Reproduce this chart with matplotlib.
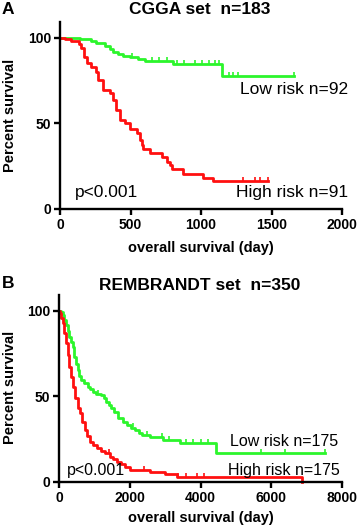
import numpy as np
import matplotlib
matplotlib.use("Agg")
from matplotlib import pyplot as plt

plt.rcParams['font.family'] = ['Liberation Sans', 'DejaVu Sans']

# panel A: CGGA (time in days, percent survival)
cgga_low_t = [0, 140, 222, 258, 317, 352, 376, 411, 447, 494, 553, 600, 801, 1151, 1660]
cgga_low_s = [100, 99.2, 98, 96.7, 95.3, 93.4, 91.8, 90.5, 89.3, 88.5, 87.6, 86.4, 84.6, 77.6, 77.6]
cgga_low_cens = [509, 650, 700, 760, 830, 880, 960, 1010, 1060, 1100, 1130, 1200, 1230, 1260, 1660]

cgga_high_t = [0, 33, 80, 132, 151, 170, 194, 222, 258, 270, 305, 352, 376, 399, 423, 461, 497,
               546, 567, 579, 591, 638, 721, 757, 780, 792, 874, 1016, 1087, 1475]
cgga_high_s = [100, 99, 98, 96.3, 93.8, 88.9, 85, 83, 80, 75.3, 69.5, 67.5, 63.6, 57.8, 52, 50, 46.5,
               44.2, 40.3, 37.4, 34.8, 32.9, 30.5, 27.6, 25.7, 23.2, 20.4, 17.9, 16.2, 16.2]
cgga_high_cens = [1300, 1380, 1420, 1475]

# panel B: REMBRANDT
remb_low_t = [0, 60, 104, 150, 198, 250, 292, 340, 387, 434, 480, 528, 575, 622, 700, 811, 880, 952,
              1050, 1187, 1260, 1329, 1400, 1470, 1550, 1677, 1800, 1913, 2030, 2149, 2250, 2337,
              2573, 2949, 3421, 4438, 7520]
remb_low_s = [100, 99, 97.5, 94.5, 91.6, 88, 84.8, 82, 79, 73, 69, 65.3, 62, 59.5, 57.5, 55.6, 54, 52.6,
              51.5, 50.7, 49, 46.8, 44.8, 42.9, 40.5, 37.1, 35, 33.2, 31.7, 30.2, 28.7, 27.3,
              26, 24.4, 22.8, 17, 17]
remb_low_cens = [1100, 2100, 2500, 2900, 3100, 3600, 3800, 4000, 4200, 5700, 6400, 7520]

remb_high_t = [0, 20, 50, 104, 150, 198, 250, 292, 340, 387, 450, 528, 594, 660, 735, 800, 876, 960,
               1066, 1180, 1300, 1442, 1540, 1631, 1750, 1866, 2007, 2573, 3000, 3327, 6861, 6861]
remb_high_s = [100, 98.5, 96, 92.6, 87, 81, 74, 67.3, 61.5, 55.6, 49, 42.9, 40, 35, 30.2, 26.5, 23.4, 21.5,
               19.5, 18, 16.6, 14.6, 13, 11.7, 10.2, 8.8, 6.8, 5.8, 4.7, 2.9, 2.9, 0]
remb_high_cens = [1400, 2400, 3350, 3600, 3900, 4100]

green = '#2cf52c'
red = '#ff1010'

W, H = 358, 531
fig = plt.figure(figsize=(W / 100, H / 100), dpi=100)


def surv_at(t, s, x):
    i = np.searchsorted(t, x, side='right') - 1
    return np.array(s)[i]


def km_panel(rect, xmax, xticks, curves):
    ax = fig.add_axes(rect)
    for t, s, cens, col in curves:
        ax.step(t, s, where='post', color=col, lw=2.0, clip_on=False, zorder=3)
        ax.plot(cens, surv_at(t, s, cens) + 1.2, ls='none', marker='|', ms=3.5, mew=1.2,
                color=col, clip_on=False, zorder=3)
    ax.set_xlim(0, xmax)
    ax.set_ylim(0, 109.2)
    ax.set_xticks(xticks)
    ax.set_yticks([0, 50, 100])
    for sp in ['top', 'right']:
        ax.spines[sp].set_visible(False)
    for sp in ['left', 'bottom']:
        ax.spines[sp].set_linewidth(1.7)
        ax.spines[sp].set_zorder(5)
    ax.tick_params(length=4.5, width=1.7, labelsize=10, pad=2)
    for lab in ax.get_xticklabels() + ax.get_yticklabels():
        lab.set_fontweight('bold')
    return ax


axA = km_panel([60 / W, 1 - 209 / H, 282 / W, 187 / H], 2000, [0, 500, 1000, 1500, 2000],
               [(cgga_low_t, cgga_low_s, cgga_low_cens, green),
                (cgga_high_t, cgga_high_s, cgga_high_cens, red)])
axB = km_panel([59 / W, 1 - 481.7 / H, 283 / W, 186.7 / H], 8000, [0, 2000, 4000, 6000, 8000],
               [(remb_low_t, remb_low_s, remb_low_cens, green),
                (remb_high_t, remb_high_s, remb_high_cens, red)])


def ftext(x, y, s, **kw):
    fig.text(x / W, 1 - y / H, s, va='center', **kw)


# panel A texts
ftext(2, 10, 'A', fontsize=12.5, fontweight='bold')
ftext(200, 10, 'CGGA set  n=183', fontsize=12.5, fontweight='bold', ha='center')
ftext(348, 90, 'Low risk n=92', fontsize=12.5, ha='right')
ftext(348, 193, 'High risk n=91', fontsize=12.5, ha='right')
ftext(75, 193, 'p<0.001', fontsize=12.5, ha='left')
ftext(201, 248, 'overall survival (day)', fontsize=10.5, fontweight='bold', ha='center')
ftext(10, 115, 'Percent survival', fontsize=10.5, fontweight='bold', ha='center', rotation=90)

# panel B texts
ftext(2, 283, 'B', fontsize=12.5, fontweight='bold')
ftext(200, 285, 'REMBRANDT set  n=350', fontsize=12.5, fontweight='bold', ha='center')
ftext(338, 442, 'Low risk n=175', fontsize=11.5, ha='right')
ftext(340, 471, 'High risk n=175', fontsize=11.5, ha='right')
ftext(67, 470, 'p<0.001', fontsize=11.5, ha='left')
ftext(201, 518, 'overall survival (day)', fontsize=10.5, fontweight='bold', ha='center')
ftext(10, 387, 'Percent survival', fontsize=10.5, fontweight='bold', ha='center', rotation=90)

fig.savefig('out.png', dpi=100)
